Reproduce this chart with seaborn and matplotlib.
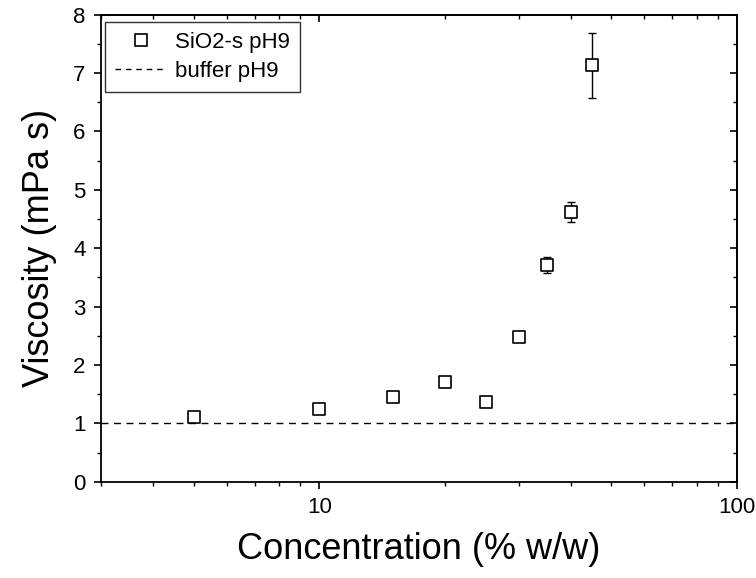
import matplotlib
matplotlib.use("Agg")
import matplotlib.pyplot as plt
from matplotlib.lines import Line2D
from matplotlib.ticker import LogLocator, MultipleLocator, FixedLocator, FixedFormatter, NullFormatter
import seaborn as sns
import pandas as pd

concentration = [5, 10, 15, 20, 25, 30, 35, 40, 45]
viscosity = [1.10, 1.245, 1.455, 1.71, 1.36, 2.48, 3.71, 4.62, 7.13]
viscosity_err = [0.03, 0.03, 0.04, 0.03, 0.03, 0.05, 0.14, 0.17, 0.56]
buffer_viscosity = 1.0
series_label = "SiO2-s pH9"
buffer_label = "buffer pH9"

sns.set_style("ticks")
plt.rcParams["font.family"] = ["Liberation Sans", "DejaVu Sans"]
plt.rcParams["text.color"] = "black"
plt.rcParams["axes.labelcolor"] = "black"
plt.rcParams["xtick.color"] = "black"
plt.rcParams["ytick.color"] = "black"

df = pd.DataFrame({"c": concentration, "v": viscosity, "e": viscosity_err})

fig = plt.figure(figsize=(7.56, 5.78), dpi=100)
ax = fig.add_axes([101 / 756, 1 - 481.7 / 578, (737 - 101) / 756, (481.7 - 14.7) / 578])

ax.errorbar(df["c"], df["v"], yerr=df["e"], fmt="none", ecolor="black",
            elinewidth=1.0, capsize=3, capthick=1.0, zorder=2)
sns.scatterplot(data=df, x="c", y="v", ax=ax, marker="s", s=64,
                facecolor="white", edgecolor="black", linewidth=1.2, zorder=3,
                legend=False)
ax.axhline(buffer_viscosity, color="black", lw=1.0, ls=(0, (5, 4)), zorder=1)

ax.set_xscale("log")
ax.set_xlim(3, 100)
ax.set_ylim(0, 8)

ax.xaxis.set_major_locator(FixedLocator([10, 100]))
ax.xaxis.set_major_formatter(FixedFormatter(["10", "100"]))
ax.xaxis.set_minor_locator(LogLocator(base=10, subs=range(2, 10)))
ax.xaxis.set_minor_formatter(NullFormatter())
ax.yaxis.set_major_locator(MultipleLocator(1))
ax.yaxis.set_minor_locator(MultipleLocator(0.5))

for sp in ax.spines.values():
    sp.set_linewidth(1.3)
    sp.set_color("black")

ax.tick_params(axis="both", which="major", direction="out", length=5, width=1.2,
               labelsize=16, pad=6, top=False, right=False)
ax.tick_params(axis="both", which="minor", direction="out", length=3, width=1.0,
               top=False, right=False)

# mirrored inward ticks on top and right
axt = ax.secondary_xaxis("top")
axt.xaxis.set_major_locator(FixedLocator([10, 100]))
axt.xaxis.set_minor_locator(LogLocator(base=10, subs=range(2, 10)))
axt.tick_params(which="major", direction="in", length=5, width=1.2, labeltop=False)
axt.tick_params(which="minor", direction="in", length=3, width=1.0)
axt.xaxis.set_major_formatter(NullFormatter())
axt.xaxis.set_minor_formatter(NullFormatter())
axr = ax.secondary_yaxis("right")
axr.yaxis.set_major_locator(MultipleLocator(1))
axr.yaxis.set_minor_locator(MultipleLocator(0.5))
axr.tick_params(which="major", direction="in", length=5, width=1.2, labelright=False)
axr.tick_params(which="minor", direction="in", length=3, width=1.0)
axr.yaxis.set_major_formatter(NullFormatter())
for a in (axt, axr):
    for sp in a.spines.values():
        sp.set_linewidth(1.3)

ax.set_xlabel("Concentration (% w/w)", fontsize=26, labelpad=10)
ax.set_ylabel("Viscosity (mPa s)", fontsize=26, labelpad=12)

handles = [
    Line2D([], [], marker="s", ls="none", markersize=8, markerfacecolor="white",
           markeredgecolor="black", markeredgewidth=1.2),
    Line2D([], [], color="black", lw=1.0, ls=(0, (4, 3.5))),
]
leg = ax.legend(handles, [series_label, buffer_label], loc="upper left",
                bbox_to_anchor=(105 / 756, 1 - 22 / 578),
                bbox_transform=fig.transFigure,
                fontsize=16, frameon=True, fancybox=False, edgecolor="black",
                borderaxespad=0, handlelength=2.3, handletextpad=0.4,
                borderpad=0.45, labelspacing=0.35)
leg.get_frame().set_linewidth(1.0)

fig.savefig("out.png", dpi=100)
